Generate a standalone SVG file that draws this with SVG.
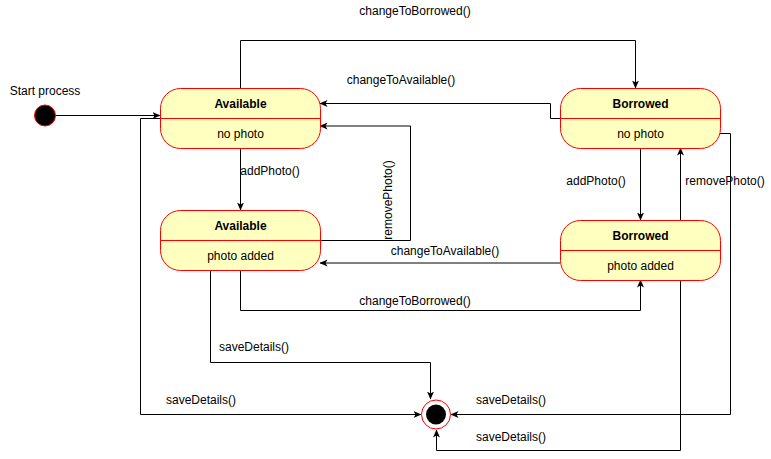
<svg xmlns="http://www.w3.org/2000/svg" width="771" height="459" viewBox="0 0 771 459">
<style>
text{font-family:"Liberation Sans",Arial,sans-serif;font-size:12px;fill:#000;text-anchor:middle}
.t{font-weight:bold}
.box{fill:#ffffc0;stroke:#ff0000;stroke-width:1}
.div{stroke:#ff0000;stroke-width:1}
.c{fill:none;stroke:#000;stroke-width:1;marker-end:url(#ah)}
</style>
<defs>
<marker id="ah" viewBox="0 0 8 8" refX="7.5" refY="4" markerWidth="8" markerHeight="8" markerUnits="userSpaceOnUse" orient="auto">
<path d="M0,0.5 L8,4 L0,7.5 L2,4 z" fill="#000"/>
</marker>
</defs>
<rect width="771" height="459" fill="#fff"/>
<g id="connectors">
<path class="c" d="M56,115.5 H160"/>
<path class="c" d="M240.5,88 V40.5 H635.5 V88"/>
<path class="c" d="M560,118.5 H550.5 V103.5 H320"/>
<path class="c" d="M240.5,148 V210"/>
<path class="c" d="M320,240.5 H410.5 V126 H320"/>
<path class="c" d="M560,263 H320"/>
<path class="c" d="M240.5,270 V310.5 H640.5 V280"/>
<path class="c" d="M210.5,270 V362.5 H430.5 V399"/>
<path class="c" d="M160,118.5 H140.5 V414.5 H421"/>
<path class="c" d="M720,133.5 H730.5 V414.5 H451"/>
<path class="c" d="M680.5,280 V450.5 H436.5 V430"/>
<path class="c" d="M640.5,148 V220"/>
<path class="c" d="M680.5,220 V148"/>
<text x="415" y="15">changeToBorrowed()</text>
<text x="401" y="84">changeToAvailable()</text>
<text x="270" y="175">addPhoto()</text>
<text transform="translate(392,200) rotate(-90)">removePhoto()</text>
<text x="445" y="255">changeToAvailable()</text>
<text x="415" y="305">changeToBorrowed()</text>
<text x="254" y="351">saveDetails()</text>
<text x="201" y="404">saveDetails()</text>
<text x="511" y="404">saveDetails()</text>
<text x="511" y="441">saveDetails()</text>
<text x="596" y="185">addPhoto()</text>
<text x="725" y="185">removePhoto()</text>
</g>
<g id="start">
<circle cx="45" cy="115.5" r="10.5" fill="#000" stroke="#ff0000"/>
<text x="45" y="95">Start process</text>
</g>
<g id="end">
<circle cx="436" cy="414.5" r="14.5" fill="#fff" stroke="#ff0000"/>
<circle cx="436" cy="414.5" r="10" fill="#000"/>
</g>
<g id="available-nophoto">
<rect class="box" x="160.5" y="88.5" width="160" height="60" rx="20"/>
<line class="div" x1="160.5" y1="118.5" x2="320.5" y2="118.5"/>
<text class="t" x="240.5" y="108">Available</text>
<text x="240.5" y="138">no photo</text>
</g>
<g id="borrowed-nophoto">
<rect class="box" x="560.5" y="88.5" width="160" height="60" rx="20"/>
<line class="div" x1="560.5" y1="118.5" x2="720.5" y2="118.5"/>
<text class="t" x="640.5" y="108">Borrowed</text>
<text x="640.5" y="138">no photo</text>
</g>
<g id="available-photo">
<rect class="box" x="160.5" y="210.5" width="160" height="60" rx="20"/>
<line class="div" x1="160.5" y1="240.5" x2="320.5" y2="240.5"/>
<text class="t" x="240.5" y="230">Available</text>
<text x="240.5" y="260">photo added</text>
</g>
<g id="borrowed-photo">
<rect class="box" x="560.5" y="220.5" width="160" height="60" rx="20"/>
<line class="div" x1="560.5" y1="250.5" x2="720.5" y2="250.5"/>
<text class="t" x="640.5" y="240">Borrowed</text>
<text x="640.5" y="270">photo added</text>
</g>
</svg>
